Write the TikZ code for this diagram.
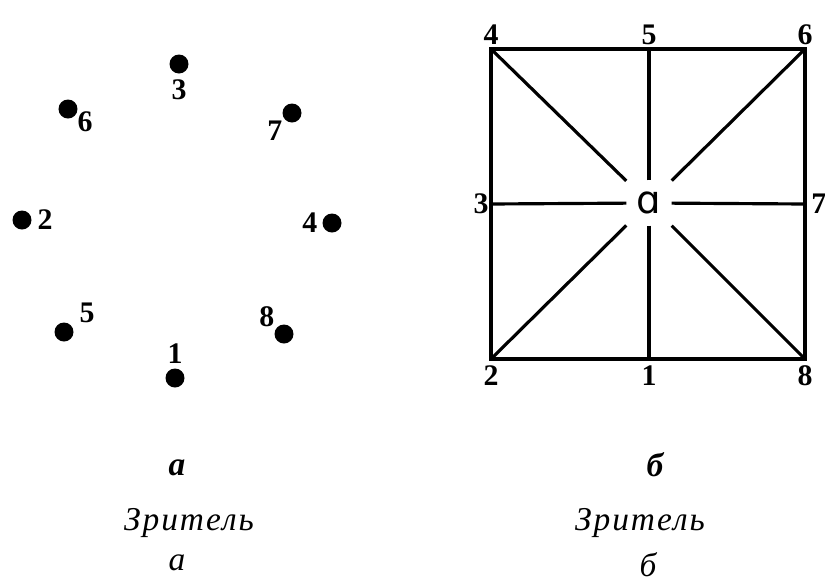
\documentclass[tikz,border=0pt]{standalone}
\usepackage{fontspec}
\setmainfont{Liberation Serif}
\newfontfamily\centfont{DejaVu Sans}
\newfontfamily\viewfont[LetterSpace=6]{Liberation Serif}
\usetikzlibrary{positioning}

\begin{document}
\begin{tikzpicture}[font=\bfseries\fontsize{8.5}{9}\selectfont,
  bead/.style={circle,fill=black,inner sep=0pt,minimum size=1.9mm},
  num/.style={inner sep=0.5pt},
  edge/.style={line width=0.9pt},
  viewer/.style={font=\viewfont\itshape\fontsize{9.5}{11}\selectfont},
  letter/.style={font=\bfseries\itshape\fontsize{9.5}{11}\selectfont}]
\useasboundingbox (0,0) rectangle (8.25,5.85);
% a: points round the viewer
\begin{scope}
\node[bead] (d1) at (1.75,2.07) {};
\node[bead] (d2) at (0.22,3.65) {};
\node[bead] (d3) at (1.79,5.21) {};
\node[bead] (d4) at (3.32,3.62) {};
\node[bead] (d5) at (0.64,2.53) {};
\node[bead] (d6) at (0.68,4.76) {};
\node[bead] (d7) at (2.92,4.72) {};
\node[bead] (d8) at (2.84,2.51) {};
\node[num,above=0.2mm of d1] {1};
\node[num,right=0.3mm of d2] {2};
\node[num,below=0.3mm of d3] {3};
\node[num,left=0.2mm of d4] {4};
\node[num,above right=0pt and 0.6mm of d5] {5};
\node[num,below right=-0.7mm and 0pt of d6] {6};
\node[num,below left=-0.2mm and 0pt of d7] {7};
\node[num,above left=-0.2mm and 0pt of d8] {8};
\end{scope}
% b: square with the centre
\begin{scope}
\coordinate (c4) at (4.91,5.36);
\coordinate (m5) at (6.49,5.36);
\coordinate (c6) at (8.05,5.36);
\coordinate (m3) at (4.91,3.81);
\coordinate (m7) at (8.05,3.81);
\coordinate (c2) at (4.91,2.26);
\coordinate (m1) at (6.49,2.26);
\coordinate (c8) at (8.05,2.26);
\node[inner sep=0pt,minimum width=4.4mm,minimum height=4.4mm,
  font=\centfont\fontsize{11}{12}\selectfont] (ctr) at (6.49,3.82) {ɑ};
\draw[edge] (c2) rectangle (c6);
\foreach \p in {c4,m5,c6,m7,c8,m1,c2,m3}
  \draw[edge] (ctr) -- (\p);
\node[num,above=0.2mm of c4] {4};
\node[num,above=0.2mm of m5] {5};
\node[num,above=0.2mm of c6] {6};
\node[num,left=0pt of m3] {3};
\node[num,right=0.4mm of m7] {7};
\node[num,below=0.4mm of c2] {2};
\node[num,below=0.4mm of m1] {1};
\node[num,below=0.4mm of c8] {8};
\end{scope}
% captions
\node[letter] (capA) at (1.77,1.17) {a};
\node[viewer] (viewA) at (1.89,0.62) {Зритель};
\node[font=\itshape\fontsize{9.5}{11}\selectfont] (subA) at (1.77,0.22) {a};
\node[letter] (capB) at (6.55,1.20) {б};
\node[viewer] (viewB) at (6.40,0.62) {Зритель};
\node[font=\itshape\fontsize{9.5}{11}\selectfont] (subB) at (6.48,0.20) {б};
\end{tikzpicture}
\end{document}
